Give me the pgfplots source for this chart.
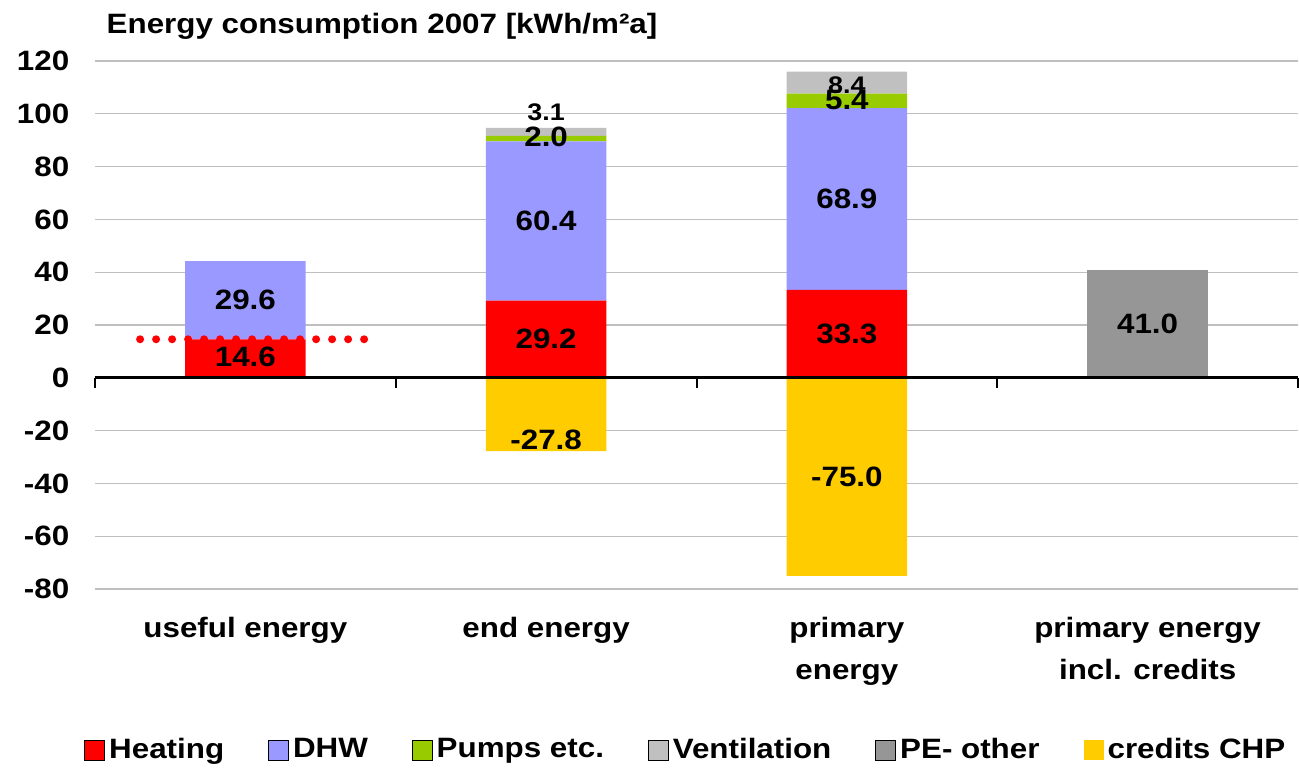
\documentclass[border=0pt]{standalone}
\usepackage{fontspec}
\setmainfont{Liberation Sans}[FakeStretch=1.12]
\usepackage{pgfplots}
\pgfplotsset{compat=1.18}

\definecolor{heat}{HTML}{FF0000}
\definecolor{dhw}{HTML}{9999FF}
\definecolor{pump}{HTML}{99CC00}
\definecolor{vent}{HTML}{C0C0C0}
\definecolor{peo}{HTML}{969696}
\definecolor{chp}{HTML}{FFCC00}

\pgfplotsset{
  /pgf/number format/assume math mode=true,
  frame/.style={scale only axis, width=601.5pt, height=264pt,
    xmin=-0.5, xmax=3.5, ymin=-80, ymax=120},
  % value labels; dy (in data units) nudges a label off its place
  vallabels/.style={
    point meta=\thisrow{y},
    nodes near coords={\pgfmathfloatifflags{\pgfplotspointmeta}{0}{}{\pgfmathprintnumber[fixed,fixed zerofill,precision=1]{\pgfplotspointmeta}}},
    visualization depends on={\thisrow{y}\as\rawv},
    visualization depends on={\thisrow{dy}\as\dyv},
  },
  % stacked bars already put the label in the middle of the segment
  stacklabels/.style={vallabels,
    every node near coord/.style={anchor=center, yshift={\dyv*1.32pt}}},
  % a plain bar puts it at the end of the bar, so move it back by half
  barlabels/.style={vallabels,
    every node near coord/.style={anchor=center, yshift={(\dyv-\rawv/2)*1.32pt}}},
  sq/.style={legend image code/.code={\fill[##1] (0pt,-5pt) rectangle (10pt,5pt);}},
}

\begin{document}
\fontsize{14}{21}\selectfont\bfseries
\begin{tikzpicture}
\useasboundingbox (-47.5pt,-89.5pt) rectangle (602pt,294.5pt);

\begin{axis}[frame,
  ybar stacked, bar width=0.4,
  axis line style={draw=none}, tick style={draw=none},
  ytick={-80,-60,...,120},
  ymajorgrids, grid style={color=black!25, line width=0.6pt},
  yticklabel style={xshift=-8pt},
  xtick={0,1,2,3},
  xticklabels={useful energy, end energy, {primary\\energy}, {primary energy\\incl. credits}},
  xticklabel style={align=center, yshift=-9pt},
  title={Energy consumption 2007 [kWh/m²a]},
  title style={anchor=west, at={(0,1)}, xshift=1pt, yshift=11.5pt},
  stacklabels,
]
\addplot[fill=heat, draw=none] table {
x y dy
0 14.6 0.7
1 29.2 0
2 33.3 0
3 0 0
};
\addplot[fill=dhw, draw=none] table {
x y dy
0 29.6 0
1 60.4 0
2 68.9 0
3 0 0
};
\addplot[fill=pump, draw=none] table {
x y dy
0 0 0
1 2.0 0.7
2 5.4 0.4
3 0 0
};
\addplot[fill=vent, draw=none,
  every node near coord/.append style={font=\fontsize{12}{14}\selectfont\bfseries}] table {
x y dy
0 0 0
1 3.1 7.6
2 8.4 -0.8
3 0 0
};
\addplot[fill=peo, draw=none] table {
x y dy
0 0 0
1 0 0
2 0 0
3 41.0 0
};
\end{axis}

\begin{axis}[frame,
  axis on top,
  axis y line=none,
  axis x line=middle,
  x axis line style={-, line width=1.5pt},
  xtick={-0.5,0.5,1.5,2.5,3.5}, xticklabels={},
  tick align=outside, major tick length=5pt,
  xtick style={black, line width=1pt},
  legend columns=6,
  legend style={draw=none, fill=none, at={(0.492,-0.305)}, anchor=center,
    /tikz/every even column/.append style={column sep=20pt}},
]
\addlegendimage{sq, fill=heat}\addlegendentry{Heating}
\addlegendimage{sq, fill=dhw}\addlegendentry{DHW}
\addlegendimage{sq, fill=pump}\addlegendentry{Pumps etc.}
\addlegendimage{sq, fill=vent}\addlegendentry{Ventilation}
\addlegendimage{sq, fill=peo}\addlegendentry{PE- other}
\addplot[ybar, bar width=0.4, fill=chp, draw=none, sq, barlabels] table {
x y dy
0 0 0
1 -27.8 -9.6
2 -75.0 0
3 0 0
};
\addlegendentry{credits CHP}
\addplot[heat, line width=4pt, line cap=round, dash pattern=on 0pt off 8pt, forget plot]
  coordinates {(-0.35,14.6) (0.414,14.6)};
\end{axis}
\end{tikzpicture}
\end{document}
